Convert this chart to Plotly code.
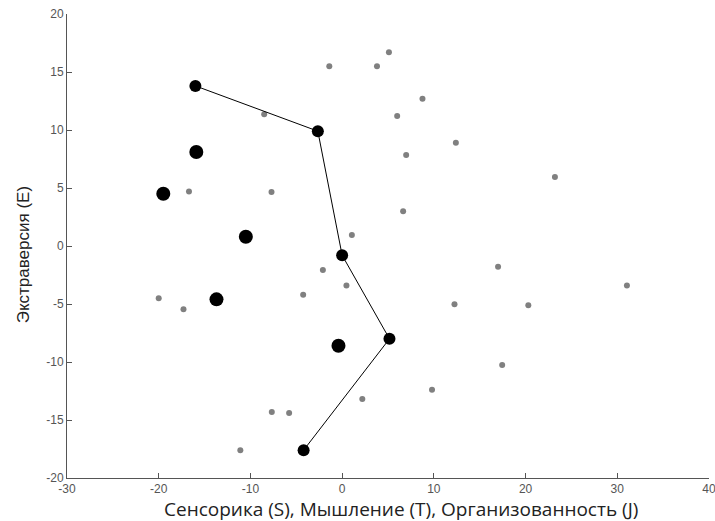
import plotly.graph_objects as go

# Gray points (population sample)
gray_x = [-1.4, -8.5, -16.7, -7.7, 1.06, -2.1, 0.47, -4.25, -20.0, -17.3, -7.67, -5.78, -11.1, 2.2,
          5.1, 3.8, 8.76, 6.0, 12.4, 6.98, 23.2, 6.65, 17.0, 31.05, 12.25, 20.3, 17.45, 9.8]
gray_y = [15.5, 11.35, 4.7, 4.65, 0.95, -2.07, -3.4, -4.2, -4.5, -5.46, -14.3, -14.4, -17.6, -13.2,
          16.7, 15.5, 12.7, 11.2, 8.9, 7.84, 5.95, 3.0, -1.78, -3.4, -5.03, -5.1, -10.26, -12.4]

# Isolated black points
black_x = [-15.9, -19.5, -10.5, -13.7, -0.4]
black_y = [8.1, 4.5, 0.8, -4.6, -8.6]

# Black points connected by a line
path_x = [-16.0, -2.65, 0.0, 5.16, -4.2]
path_y = [13.8, 9.9, -0.8, -8.0, -17.6]

x_ticks = [-30, -20, -10, 0, 10, 20, 30, 40]
y_ticks = [-20, -15, -10, -5, 0, 5, 10, 15, 20]

x_title = "Сенсорика (S), Мышление (T), Организованность (J)"
y_title = "Экстраверсия (E)"

fig = go.Figure()
fig.add_trace(go.Scatter(x=gray_x, y=gray_y, mode="markers",
                         marker=dict(size=6, color="#808080"), showlegend=False))
fig.add_trace(go.Scatter(x=path_x, y=path_y, mode="lines+markers",
                         line=dict(color="black", width=1),
                         marker=dict(size=12, color="black"), showlegend=False))
fig.add_trace(go.Scatter(x=black_x, y=black_y, mode="markers",
                         marker=dict(size=14, color="black"), showlegend=False))

axis_common = dict(showgrid=False, zeroline=False, showline=True, linecolor="#555555",
                   linewidth=1, ticks="inside", ticklen=5, tickcolor="#555555",
                   automargin=False, ticklabeloverflow="allow",
                   tickfont=dict(family="Liberation Sans, Arial", size=12, color="#555555"))

fig.update_layout(
    width=715, height=521,
    margin=dict(l=67, r=6, t=14, b=43),
    paper_bgcolor="white", plot_bgcolor="white",
    xaxis=dict(range=[-30, 40], tickvals=x_ticks, ticktext=[str(v) for v in x_ticks],
               **axis_common),
    yaxis=dict(range=[-20, 20], tickvals=y_ticks, ticktext=[str(v) for v in y_ticks],
               **axis_common),
    annotations=[
        dict(text=x_title, xref="paper", yref="paper", x=0.52, y=0, yshift=-31,
             xanchor="center", yanchor="middle", showarrow=False,
             font=dict(family="Open Sans", size=19, color="#222222")),
        dict(text=y_title, xref="paper", yref="paper", x=0, xshift=-44, y=0.48,
             xanchor="center", yanchor="middle", showarrow=False, textangle=-90,
             font=dict(family="Liberation Sans, Arial", size=17, color="#222222")),
    ],
)

fig.write_html("out.html", config={"displayModeBar": False},
               post_script="document.body.style.margin='0';document.body.style.overflow='hidden';")
